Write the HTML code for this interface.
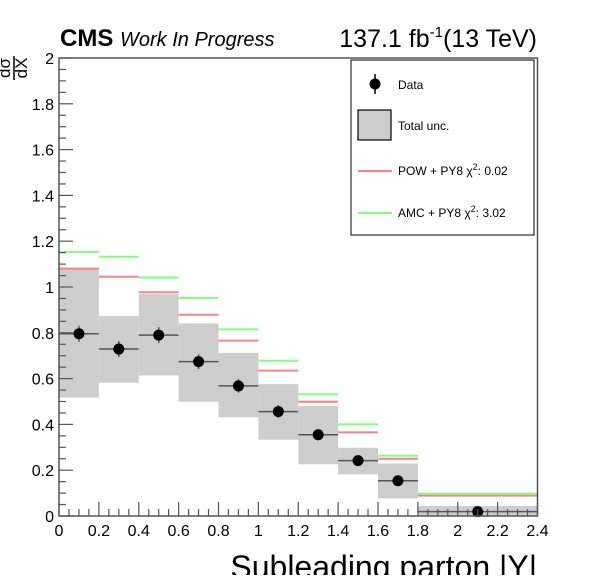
<!DOCTYPE html>
<html><head><meta charset="utf-8"><style>
body{margin:0;background:#fff;width:598px;height:575px;overflow:hidden;font-family:"Liberation Sans",sans-serif}
</style></head><body>
<svg id="c" width="598" height="575" xmlns="http://www.w3.org/2000/svg" font-family="Liberation Sans, sans-serif">
<text x="60" y="46" font-size="24" font-weight="bold">CMS <tspan font-weight="normal" font-style="italic" font-size="20">Work In Progress</tspan></text>
<text x="537" y="47" font-size="25" text-anchor="end">137.1 fb<tspan dy="-10" font-size="15">-1</tspan><tspan dy="10">(13 TeV)</tspan></text>
<g transform="translate(14,68) rotate(-90)" font-size="17">
<text x="0" y="-4" text-anchor="middle">dσ</text><line x1="-12" x2="12" y1="0" y2="0" stroke="#000" stroke-width="1.5"/><text x="0" y="13" text-anchor="middle">dX</text></g>
<text x="537" y="578" font-size="32" text-anchor="end">Subleading parton |Y|</text>
<g id="plot"></g>
<g>
<rect x="351" y="60" width="183" height="175" fill="#fff" stroke="#000" stroke-width="1"/>
<g><line x1="375" x2="375" y1="74" y2="94" stroke="#000" stroke-width="1.5"/><circle cx="375" cy="84" r="5.5" fill="#000"/><text x="398" y="89" font-size="12">Data</text></g>
<g><rect x="358" y="110" width="33" height="30" fill="#cdcdcd" stroke="#000" stroke-width="1.2"/><text x="398" y="130" font-size="12">Total unc.</text></g>
<g><line x1="358" x2="392" y1="171" y2="171" stroke="#ff8080" stroke-width="2"/><text x="398" y="175" font-size="12">POW + PY8 χ<tspan dy="-5" font-size="9">2</tspan><tspan dy="5">: 0.02</tspan></text></g>
<g><line x1="358" x2="392" y1="213" y2="213" stroke="#80ff80" stroke-width="2"/><text x="398" y="217" font-size="12">AMC + PY8 χ<tspan dy="-5" font-size="9">2</tspan><tspan dy="5">: 3.02</tspan></text></g>
</g>
</svg>
<script>
const binEdges=[0,0.2,0.4,0.6,0.8,1.0,1.2,1.4,1.6,1.8,2.4];
const dataVals=[0.796,0.729,0.790,0.674,0.568,0.456,0.355,0.242,0.154,0.019];
const dataErr=[0.035,0.035,0.035,0.032,0.03,0.028,0.025,0.02,0.018,0.01];
const uncHigh=[1.077,0.873,0.969,0.841,0.712,0.576,0.480,0.298,0.229,0.044];
const uncLow=[0.517,0.582,0.614,0.499,0.431,0.333,0.226,0.182,0.077,0];
const powVals=[1.080,1.045,0.977,0.879,0.766,0.635,0.499,0.365,0.250,0.089];
const amcVals=[1.153,1.132,1.041,0.952,0.815,0.678,0.531,0.400,0.263,0.097];
const yTicks=[0,0.2,0.4,0.6,0.8,1,1.2,1.4,1.6,1.8,2];
const xTicks=[0,0.2,0.4,0.6,0.8,1,1.2,1.4,1.6,1.8,2,2.2,2.4];
const X0=59,X1=537.5,Y0=516,Y1=58;
const xs=v=>X0+(X1-X0)*v/2.4, ys=v=>Y0-(Y0-Y1)*v/2;
const NS='http://www.w3.org/2000/svg', g=document.getElementById('plot');
function mk(t,a,p){const e=document.createElementNS(NS,t);for(const k in a)e.setAttribute(k,a[k]);(p||g).appendChild(e);return e;}
for(let i=0;i<dataVals.length;i++){
 const a=xs(binEdges[i]),b=xs(binEdges[i+1]),c=(a+b)/2;
 const r=mk('rect',{x:a,y:ys(uncHigh[i]),width:b-a,height:ys(uncLow[i])-ys(uncHigh[i]),fill:'#cdcdcd'});
 
 
 const p=mk('line',{x1:a,x2:b,y1:ys(powVals[i]),y2:ys(powVals[i]),stroke:'#ff8080','stroke-width':2});
 
 
 const m=mk('line',{x1:a,x2:b,y1:ys(amcVals[i]),y2:ys(amcVals[i]),stroke:'#80ff80','stroke-width':2});
 
 
 mk('line',{x1:a,x2:b,y1:ys(dataVals[i]),y2:ys(dataVals[i]),stroke:'#555','stroke-width':1.5});
 mk('line',{x1:c,x2:c,y1:ys(dataVals[i]+dataErr[i]),y2:ys(dataVals[i]-dataErr[i]),stroke:'#555','stroke-width':1.5});
 const d=mk('circle',{cx:c,cy:ys(dataVals[i]),r:5.5,fill:'#000'});
 
 
}
mk('rect',{x:X0,y:Y1,width:X1-X0,height:Y0-Y1,fill:'none',stroke:'#555','stroke-width':1.5});
for(let v=0;v<=2.0001;v+=0.05){const maj=Math.abs(v/0.2-Math.round(v/0.2))<1e-6;mk('line',{x1:X0,x2:X0+(maj?14:7),y1:ys(v),y2:ys(v),stroke:'#555','stroke-width':1.2});}
for(let v=0;v<=2.4001;v+=0.05){const maj=Math.abs(v/0.2-Math.round(v/0.2))<1e-6;mk('line',{x1:xs(v),x2:xs(v),y1:Y0,y2:Y0-(maj?14:7),stroke:'#555','stroke-width':1.2});}
yTicks.forEach(v=>{const t=mk('text',{x:X0-5,y:ys(v)+6,'font-size':16,'text-anchor':'end'});t.textContent=String(v);
 
 });
xTicks.forEach(v=>{const t=mk('text',{x:xs(v),y:Y0+20,'font-size':16,'text-anchor':'middle'});t.textContent=String(v);
 
 });
</script>
</body></html>
